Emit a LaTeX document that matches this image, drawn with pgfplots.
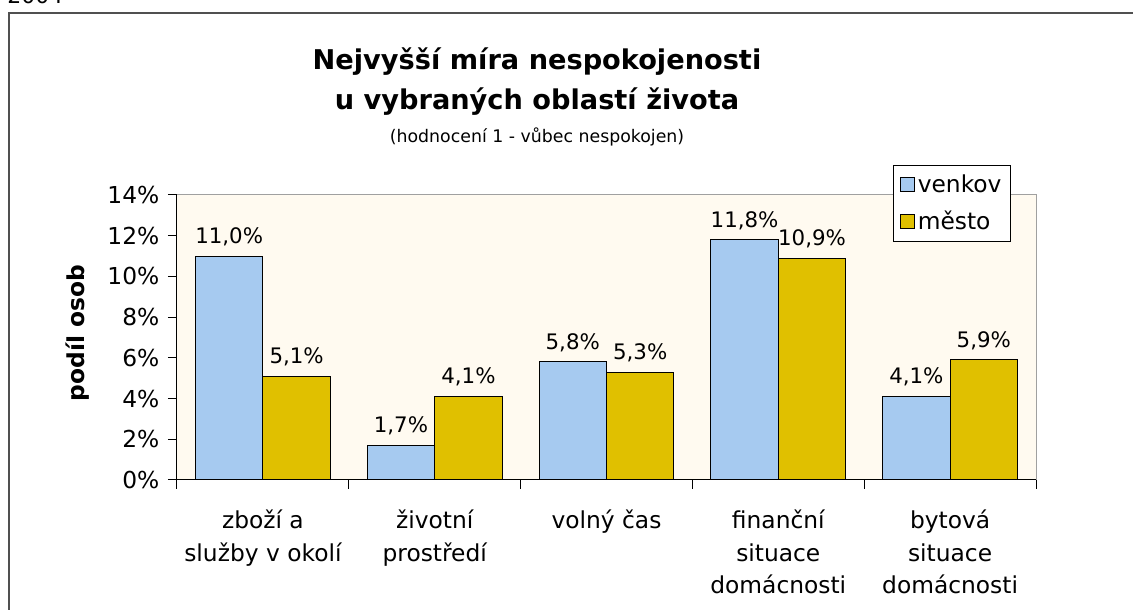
\documentclass[border=0pt]{standalone}
\usepackage{pgfplots}
\pgfplotsset{compat=1.18}
\pgfkeys{/pgf/number format/assume math mode=true}
\usepackage{fontspec}
\setmainfont{DejaVu Sans}
\definecolor{venkov}{RGB}{166,202,240}
\definecolor{mesto}{RGB}{224,192,0}
\definecolor{plotbg}{RGB}{255,250,240}
\definecolor{framegray}{RGB}{80,80,80}
\definecolor{areagray}{RGB}{160,160,160}
\begin{document}
\begin{tikzpicture}[x=0.75pt,y=0.75pt]
\useasboundingbox (0,0) rectangle (1133,610);
\node[anchor=base west, inner sep=0, font=\fontsize{16.5}{18}\selectfont] at (7,606) {2004};
\draw[line width=1.5pt, framegray] (9,597) rectangle (1160,-30);
\node[font=\bfseries\fontsize{20.4}{24}\selectfont] at (537,548) {Nejvyšší míra nespokojenosti};
\node[font=\bfseries\fontsize{20.4}{24}\selectfont] at (537,508) {u vybraných oblastí života};
\node[font=\fontsize{13}{15}\selectfont] at (537,473) {(hodnocení 1 - vůbec nespokojen)};
\begin{axis}[
  at={(132.75pt,97.5pt)}, anchor=south west,
  scale only axis, width=644.25pt, height=213.75pt,
  ybar=0pt, bar width=50.6pt,
  xmin=-0.5, xmax=4.5, ymin=0, ymax=14,
  axis x line*=bottom, axis y line*=left,
  axis line style={black, line width=0.75pt},
  axis background/.style={fill=plotbg, draw=areagray, line width=0.75pt},
  ytick={0,2,...,14},
  yticklabel={\pgfmathprintnumber{\tick}\%},
  yticklabel style={font=\fontsize{17.5}{20}\selectfont, xshift=-3pt},
  xtick={0,1,2,3,4},
  xticklabels={{zboží a\\služby v okolí},{životní\\prostředí},{volný čas},{finanční\\situace\\domácnosti},{bytová\\situace\\domácnosti}},
  xticklabel style={align=center, font=\fontsize{17.5}{24.5}\selectfont, anchor=north, yshift=-12pt},
  tick align=outside, major tick length=6.75pt, minor tick length=6.75pt,
  tick style={black, line width=0.75pt},
  major x tick style={draw=none},
  minor xtick={-0.5,0.5,1.5,2.5,3.5,4.5},
  ylabel={podíl osob},
  ylabel style={font=\bfseries\fontsize{17.5}{20}\selectfont, at={(axis description cs:-0.1153,0.516)}, anchor=center},
  nodes near coords={\pgfmathprintnumber[fixed,fixed zerofill,precision=1,use comma]{\pgfplotspointmeta}\%},
  nodes near coords style={font=\fontsize{16}{19}\selectfont, black, yshift=4pt},
  legend style={at={(axis description cs:0.8335,1.105)}, anchor=north west,
    draw=black, line width=0.75pt, fill=white,
    font=\fontsize{17.5}{20}\selectfont, row sep=8.5pt,
    inner xsep=5pt, inner ysep=5pt, cells={anchor=west}},
  every axis plot post/.append style={
    legend image code/.code={\draw[##1, draw=black, line width=0.75pt] (0pt,-5.25pt) rectangle (10.5pt,5.25pt);}},
]
\addplot[fill=venkov, draw=black, line width=0.75pt] coordinates {(0,11.0) (1,1.7) (2,5.8) (3,11.8) (4,4.1)};
\addplot[fill=mesto, draw=black, line width=0.75pt] coordinates {(0,5.1) (1,4.1) (2,5.3) (3,10.9) (4,5.9)};
\legend{venkov,město}
\end{axis}
\end{tikzpicture}
\end{document}
